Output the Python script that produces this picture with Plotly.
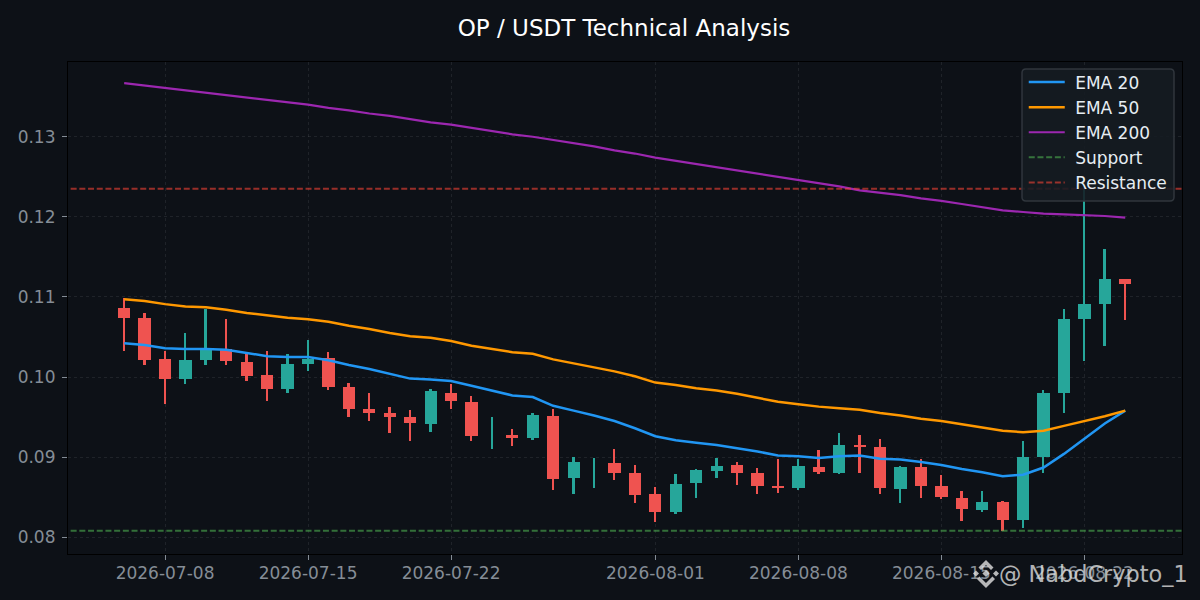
import plotly.graph_objects as go
import pandas as pd

dates = pd.date_range("2026-07-06", periods=50, freq="D").strftime("%Y-%m-%d").tolist()
opens = [.1086,.1074,.1022,.0998,.1021,.1035,.1019,.1002,.0985,.1016,.1024,.0987,.0960,.0955,.0950,.0941,.0980,
         .0969,.0926,.0927,.0924,.0951,.0874,.0880,.0893,.0880,.0854,.0831,.0868,.0883,.0890,.0880,.0863,.0861,.0888,
         .0880,.0914,.0913,.0860,.0888,.0864,.0849,.0834,.0844,.0821,.0900,.0980,.1072,.1091,.1122]
highs = [.1099,.1080,.1032,.1055,.1085,.1072,.1030,.1032,.1029,.1046,.1031,.0992,.0980,.0962,.0959,.0985,.0991,
         .0976,.0950,.0935,.0955,.0960,.0900,.0899,.0910,.0890,.0863,.0879,.0885,.0899,.0894,.0886,.0898,.0898,.0909,
         .0930,.0928,.0923,.0889,.0898,.0878,.0858,.0858,.0845,.0920,.0984,.1085,.1236,.1160,.1122]
lows = [.1032,.1015,.0966,.0991,.1015,.1015,.0995,.0970,.0980,.1008,.0984,.0950,.0945,.0930,.0920,.0931,.0960,
        .0920,.0910,.0914,.0921,.0859,.0854,.0861,.0871,.0843,.0819,.0829,.0849,.0874,.0865,.0854,.0855,.0859,.0879,
        .0879,.0880,.0854,.0843,.0849,.0848,.0820,.0831,.0808,.0811,.0880,.0955,.1020,.1039,.1071]
closes = [.1074,.1021,.0998,.1021,.1035,.1020,.1001,.0985,.1016,.1022,.0987,.0960,.0955,.0950,.0943,.0982,.0970,
          .0926,.0926,.0925,.0952,.0873,.0894,.0880,.0880,.0853,.0831,.0866,.0884,.0889,.0880,.0864,.0862,.0889,.0882,
          .0915,.0913,.0861,.0888,.0864,.0850,.0835,.0844,.0821,.0900,.0980,.1072,.1091,.1122,.1116]
ema20 = [.1042,.1040,.1036,.1035,.1035,.1034,.1030,.1026,.1025,.1025,.1021,.1015,.1010,.1004,.0998,.0997,.0995,
         .0989,.0983,.0977,.0975,.0964,.0958,.0952,.0945,.0936,.0926,.0921,.0918,.0915,.0911,.0907,.0902,.0901,.0899,
         .0901,.0902,.0898,.0897,.0894,.0890,.0885,.0881,.0876,.0878,.0887,.0904,.0923,.0942,.0958]
ema50 = [.1097,.1095,.1091,.1088,.1087,.1084,.1080,.1077,.1074,.1072,.1069,.1064,.1060,.1055,.1051,.1049,.1045,
         .1039,.1035,.1031,.1029,.1022,.1017,.1012,.1007,.1001,.0993,.0990,.0986,.0983,.0979,.0974,.0969,.0966,.0963,
         .0961,.0959,.0955,.0952,.0948,.0945,.0941,.0937,.0933,.0931,.0933,.0939,.0945,.0951,.0958]
ema200 = [.1367,.1364,.1361,.1358,.1355,.1352,.1349,.1346,.1343,.1340,.1336,.1333,.1329,.1326,.1322,.1318,.1315,
          .1311,.1307,.1303,.1300,.1296,.1292,.1288,.1283,.1279,.1274,.1270,.1266,.1262,.1258,.1254,.1250,.1246,.1242,
          .1238,.1233,.1230,.1227,.1223,.1220,.1216,.1212,.1208,.1206,.1204,.1203,.1202,.1201,.1199]
support = 0.0808
resistance = 0.1235
line_ends = ["2026-07-01T06:00", "2026-09-01"]
x_ticks = ["2026-07-08","2026-07-15","2026-07-22","2026-08-01","2026-08-08","2026-08-15","2026-08-22"]
y_ticks = [0.08,0.09,0.10,0.11,0.12,0.13]
y_labels = ["0.08","0.09","0.10","0.11","0.12","0.13"]

UP, DOWN = "#26a69a", "#ef5350"
DAY = 86400000
colors = [UP if c >= o else DOWN for o, c in zip(opens, closes)]
BG = "#0d1117"
NB = "\u00a0"

# pixel -> paper helpers, used only for the legend panel and the watermark logo
def px(x): return (x - 68) / 1114
def py(y): return (554 - y) / 492
def poly(points):
    return "M " + " L ".join(f"{px(x):.5f},{py(y):.5f}" for x, y in points) + " Z"

fig = go.Figure()
fig.add_bar(x=dates, base=lows, y=[h - l for h, l in zip(highs, lows)], width=0.09 * DAY,
            marker=dict(color=colors, line_width=0), showlegend=False, hoverinfo="skip")
fig.add_bar(x=dates, base=[min(o, c) for o, c in zip(opens, closes)],
            y=[abs(o - c) for o, c in zip(opens, closes)], width=0.6 * DAY,
            marker=dict(color=colors, line_width=0), showlegend=False)

for name, vals, col, w in [("EMA 20", ema20, "#2196f3", 2.5), ("EMA 50", ema50, "#ff9800", 2.5),
                           ("EMA 200", ema200, "#9c27b0", 2.2)]:
    fig.add_scatter(x=dates, y=vals, mode="lines", name=NB + name, legendgroup=name,
                    line=dict(color=col, width=w))
fig.add_scatter(x=line_ends, y=[support, support], mode="lines", name=NB + "Support", legendgroup="Support",
                line=dict(color="rgba(76,175,80,0.6)", width=2, dash="6px,2.7px"))
fig.add_scatter(x=line_ends, y=[resistance, resistance], mode="lines", name=NB + "Resistance", legendgroup="Resistance",
                line=dict(color="rgba(244,67,54,0.6)", width=2, dash="6px,2.7px"))

axis_common = dict(showgrid=True, gridcolor="rgba(255,255,255,0.08)", griddash="dot", gridwidth=1,
                   ticks="outside", ticklen=5, tickwidth=1.2, tickcolor="#858d96",
                   zeroline=False, showline=True, linecolor="#000000", linewidth=1.2, mirror=True)
tick_font = dict(family="DejaVu Sans", size=17, color="#858d96")
fig.update_xaxes(type="date", range=["2026-07-03T06:00", "2026-08-26T18:40"], tickfont=tick_font,
                 ticklabelstandoff=-2, tickmode="array", tickvals=x_ticks, ticktext=x_ticks, **axis_common)
fig.update_yaxes(range=[0.0779, 0.13933], tickfont=tick_font, ticklabelstandoff=3,
                 tickmode="array", tickvals=y_ticks, ticktext=y_labels, **axis_common)

# legend panel with rounded corners
L, R, T, B, C = 1022, 1174, 69, 201, 4
panel = (f"M {px(L+C):.5f},{py(T):.5f} L {px(R-C):.5f},{py(T):.5f} Q {px(R):.5f},{py(T):.5f} {px(R):.5f},{py(T+C):.5f} "
         f"L {px(R):.5f},{py(B-C):.5f} Q {px(R):.5f},{py(B):.5f} {px(R-C):.5f},{py(B):.5f} "
         f"L {px(L+C):.5f},{py(B):.5f} Q {px(L):.5f},{py(B):.5f} {px(L):.5f},{py(B-C):.5f} "
         f"L {px(L):.5f},{py(T+C):.5f} Q {px(L):.5f},{py(T):.5f} {px(L+C):.5f},{py(T):.5f} Z")
shapes = [dict(type="path", xref="paper", yref="paper", path=panel, fillcolor="rgba(22,27,34,0.88)",
               line=dict(color="#30363d", width=1.5), layer="above")]
# watermark logo
LOGO = "rgba(225,225,225,0.8)"
cx, cy = 986, 573.5
logo_polys = [
    [(cx, cy-3.6), (cx+3.6, cy), (cx, cy+3.6), (cx-3.6, cy)],
    [(cx-13, cy), (cx-10, cy-3), (cx-7, cy), (cx-10, cy+3)],
    [(cx+13, cy), (cx+10, cy-3), (cx+7, cy), (cx+10, cy+3)],
    [(cx, cy-13.5), (cx+7.5, cy-6), (cx+5, cy-3.5), (cx, cy-8.5), (cx-5, cy-3.5), (cx-7.5, cy-6)],
    [(cx, cy+14.5), (cx+9, cy+5.5), (cx+6.5, cy+3), (cx, cy+9.5), (cx-6.5, cy+3), (cx-9, cy+5.5)],
]
for p in logo_polys:
    shapes.append(dict(type="path", xref="paper", yref="paper", path=poly(p), fillcolor=LOGO,
                       line=dict(width=0), layer="above"))

fig.update_layout(
    width=1200, height=600, autosize=False, barmode="overlay", bargap=0,
    margin=dict(l=68, r=18, t=62, b=46),
    paper_bgcolor=BG, plot_bgcolor=BG, shapes=shapes,
    title=dict(text="OP / USDT Technical Analysis", x=0.52, xanchor="center", y=0.953, yanchor="middle",
               font=dict(family="DejaVu Sans", size=23, color="#ffffff")),
    legend=dict(x=0.9917, xanchor="right", y=py(64.5), yanchor="top", bgcolor="rgba(0,0,0,0)",
                borderwidth=0, tracegroupgap=0, itemwidth=36,
                font=dict(family="DejaVu Sans", size=17, color="#e6edf3")),
    annotations=[
        dict(text="@ NabdCrypto_1", xref="paper", yref="paper", x=px(1190), xanchor="right",
             y=py(574), yanchor="middle", showarrow=False,
             font=dict(family="DejaVu Sans", size=22.4, color="rgba(225,225,225,0.8)")),
    ],
)
fig.write_html("out.html", config=dict(displayModeBar=False),
               post_script="document.body.style.margin='0';document.body.style.background='#0d1117';")
